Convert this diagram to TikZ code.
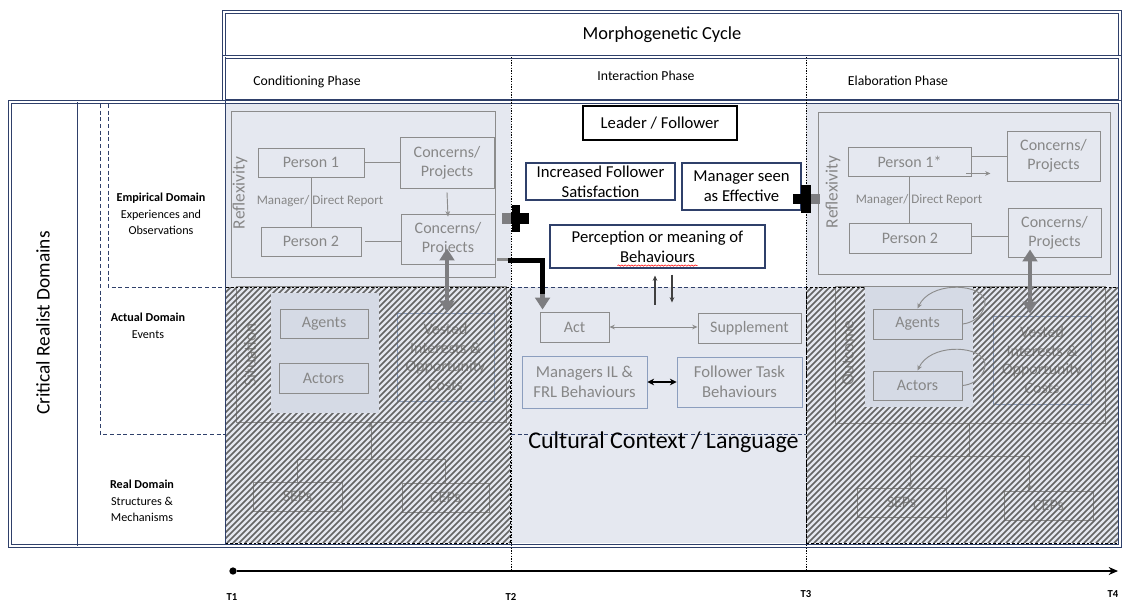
\documentclass[tikz,border=0pt]{standalone}
\usepackage{fontspec}
\setmainfont{Carlito}
\usetikzlibrary{arrows.meta,positioning,calc,decorations.pathmorphing}

\definecolor{navy}{RGB}{47,64,106}
\definecolor{pale}{RGB}{229,232,240}
\definecolor{panel}{RGB}{213,218,229}
\definecolor{boxgray}{RGB}{140,140,140}
\definecolor{txtgray}{RGB}{135,135,135}
\definecolor{fatgray}{RGB}{125,125,128}
\definecolor{hatchgray}{RGB}{100,100,100}
\definecolor{steel}{RGB}{140,158,190}

\newcommand{\fs}[2]{\fontsize{#1}{#2}\selectfont}

\begin{document}
\begin{tikzpicture}[x=0.75pt, y=-0.75pt,
		every node/.style={align=center, inner sep=1pt},
		wh/.style 2 args={minimum width=#1*0.75pt, minimum height=#2*0.75pt},
		dframe/.style={draw=navy, double, double distance=2pt, line width=0.5pt},
		navyline/.style={draw=navy, line width=0.7pt},
		domdash/.style={draw=navy, line width=0.6pt, dash pattern=on 3pt off 2pt},
		tdot/.style={draw=black, line width=0.6pt, dash pattern=on 1pt off 1pt},
		gbox/.style={draw=boxgray, line width=0.7pt, text=txtgray},
		sbox/.style={draw=steel, line width=0.7pt, text=txtgray},
		nbox/.style={draw=navy, line width=0.8pt, fill=white},
		gline/.style={draw=boxgray, line width=0.7pt},
		garrow/.style={gline, -{Stealth[length=4pt, width=3.5pt]}},
		fat/.style={draw=fatgray, line width=3.6pt, {Triangle[length=9pt, width=11pt]}-{Triangle[length=9pt, width=11pt]}},
		hatchline/.style={draw=hatchgray, line width=1.1pt},
		hatchedge/.style={draw=black, line width=0.6pt, dash pattern=on 2pt off 1.5pt},
		hd/.style={font=\fs{13.8}{16}},
		ph/.style={font=\fs{10.3}{12}},
		dom/.style={font=\fs{9.1}{12.4}},
		sidelbl/.style={font=\fs{14.5}{17}, rotate=90},
		rlab/.style={font=\fs{13}{15}, text=txtgray, rotate=90},
		pers/.style={gbox, font=\fs{12}{14}},
		cpbox/.style={gbox, font=\fs{12}{14.5}},
		mdr/.style={font=\fs{9.8}{11}, text=txtgray},
		midbox/.style={nbox, font=\fs{12.5}{15}},
		cult/.style={font=\fs{18}{21}},
		tlab/.style={font=\bfseries\fs{8}{9}}]

	\useasboundingbox (0,0) rectangle (1122,601);

	% background fills
	\fill[pale] (225,104) rectangle (511,543);
	\fill[pale] (806,104) rectangle (1118,543);
	\fill[pale] (511,287) rectangle (806,543);

	% domains
	\draw[domdash] (108,104) -- (108,287) -- (225,287);
	\draw[domdash] (100,104) -- (100,434) -- (225,434);
	\draw[domdash] (511,287) -- (806,287);
	\draw[domdash] (511,434) -- (806,434);

	\node[sidelbl] (crd) at (43,323) {Critical Realist Domains};
	\node[dom] (empdom) at (161,214) {\textbf{Empirical Domain}\\Experiences and\\Observations};
	\node[dom] (actdom) at (148,326) {\textbf{Actual Domain}\\Events};
	\node[dom] (realdom) at (142,501) {\textbf{Real Domain}\\Structures \&\\Mechanisms};

	% header
	\node[hd] (cycle) at (662,35) {Morphogenetic Cycle};
	\node[ph] (cond) at (307,82) {Conditioning Phase};
	\node[ph] (inter) at (646,76) {Interaction Phase};
	\node[ph] (elab) at (898,81) {Elaboration Phase};

	% conditioning: reflexivity
	\node[gbox, wh={264}{166}] (reflA) at (363,194) {};
	\node[rlab] (rxA) at (240,193) {Reflexivity};
	\node[pers, wh={106}{29}] (p1A) at (311,162.5) {Person 1};
	\node[pers, wh={100}{29}] (p2A) at (311,241.5) {Person 2};
	\node[cpbox, wh={94}{51}] (cpA1) at (447,162.5) {Concerns/\\Projects};
	\node[cpbox, wh={94}{50}] (cpA2) at (448,239) {Concerns/\\Projects};
	\node[mdr] (mdrA) at (320,201) {Manager/ Direct Report};
	\draw[gline] (p1A.south) -- (p1A.south |- p2A.north);
	\draw[gline] (p1A.east) -- (cpA1.west);
	\draw[gline] ($(p2A.east)+(4,0)$) -- (p2A.east -| cpA2.west);
	\draw[garrow] ($(cpA1.south)+(0,4)$) -- ($(cpA2.north)+(0,3)$);

	% conditioning: situation
	\node[gbox, wh={270}{136}] (sitA) at (371,354) {};
	\node[rlab] (sxA) at (250,355) {Situation};
	\node[sbox, wh={97}{88}, font=\fs{12}{14}] (viA) at (445.5,357) {Vested\\Interests \&\\Opportunity\\Costs};
	\node[pers, wh={89}{29}] (sepA) at (297.5,496.5) {SEPs};
	\node[pers, wh={87}{29}] (cepA) at (445.5,497.5) {CEPs};
	\coordinate (jA) at (371,459);
	\draw[gline] (sepA.north) |- (jA) -| (cepA.north);
	\draw[garrow] (jA) -- (jA |- sitA.south);
	\begin{scope}
		\clip (225,287) rectangle (510,543);
		\foreach \k in {0,6,...,546}
			\draw[hatchline] (-31+\k,543) -- ++(256,-256);
	\end{scope}
	\draw[hatchedge] (225,287) rectangle (510,543);
	\node[fill=panel, wh={108}{120}] (panA) at (325,353) {};
	\node[pers, wh={88}{29}] (agA) at (324,323.5) {Agents};
	\node[pers, wh={89}{30}] (acA) at (323.5,378) {Actors};

	% elaboration: reflexivity
	\node[gbox, wh={292}{162}] (reflB) at (964,193) {};
	\node[rlab] (rxB) at (833,192) {Reflexivity};
	\node[pers, wh={123}{29}] (p1B) at (909.5,161.5) {Person 1*};
	\node[pers, wh={122}{30}] (p2B) at (910,238) {Person 2};
	\node[cpbox, wh={93}{50}] (cpB1) at (1053.5,156) {Concerns/\\Projects};
	\node[cpbox, wh={93}{49}] (cpB2) at (1054.5,232.5) {Concerns/\\Projects};
	\node[mdr] (mdrB) at (919,200) {Manager/ Direct Report};
	\draw[gline] (p1B.south) -- (p1B.south |- p2B.north);
	\draw[gline] (p1B.east |- cpB1.west) -- (cpB1.west);
	\draw[gline] ($(p2B.east)+(0,-2)$) -- ($(p2B.east -| cpB2.west)+(0,-2)$);
	\draw[garrow] ($(p1B.south east)+(-5,-3)$) -- ++(24,0);

	% elaboration: outcome
	\node[gbox, wh={270}{137}] (outB) at (970,354.5) {};
	\node[rlab] (oxB) at (848,353) {Outcome};
	\node[sbox, wh={98}{88}, font=\fs{12}{14}] (viB) at (1042,360) {Vested\\Interests \&\\Opportunity\\Costs};
	\node[pers, wh={89}{29}] (sepB) at (901.5,502.5) {SEPs};
	\node[pers, wh={89}{29}] (cepB) at (1048.5,505.5) {CEPs};
	\coordinate (jB) at (969,456);
	\draw[gline] (jB |- outB.south) -- (jB);
	\draw[garrow] (jB) -| ($(sepB.north)+(8.5,0)$);
	\draw[garrow] (jB) -| ($(cepB.north)+(-19.5,0)$);
	\begin{scope}
		\clip (806,287) rectangle (1118,543);
		\foreach \k in {0,6,...,570}
			\draw[hatchline] (550+\k,543) -- ++(256,-256);
	\end{scope}
	\draw[hatchedge] (806,287) rectangle (1118,543);
	\node[fill=panel, wh={108}{120}] (panB) at (919,347) {};
	\node[pers, wh={89}{30}] (agB) at (917.5,324) {Agents};
	\node[pers, wh={89}{29}] (acB) at (917.5,385.5) {Actors};
	\draw[garrow] (agB.east) .. controls (980,322) and (988,306) .. (984,298)
		.. controls (976,283) and (930,282) .. (agB.north);
	\draw[garrow] (acB.east) .. controls (980,384) and (988,368) .. (984,360)
		.. controls (976,345) and (930,344) .. (acB.north);

	% interaction phase
	\node[midbox, draw=black, wh={154}{34}] (lf) at (660,123) {Leader / Follower};
	\node[midbox, wh={149}{37}] (ifs) at (600.5,181.5) {Increased Follower\\Satisfaction};
	\node[midbox, wh={119}{47}] (mse) at (741.5,186.5) {Manager seen\\as Effective};
	\node[midbox, wh={215}{43}] (pmb) at (657.5,246.5) {Perception or meaning of\\Behaviours};
	\draw[red, line width=0.4pt, decorate, decoration={snake, amplitude=0.5pt, segment length=2.5pt}]
		($(pmb.south)+(-40,-3)$) -- ++(80,0);
	\node[pers, wh={69}{30}] (act) at (574.5,327) {Act};
	\node[pers, wh={103}{30}] (sup) at (749.5,328) {Supplement};
	\node[sbox, wh={125}{52}, font=\fs{12.5}{15}] (mil) at (584.5,382) {Managers IL \&\\FRL Behaviours};
	\node[sbox, wh={125}{50}, font=\fs{12.5}{15}] (ftb) at (739.5,382) {Follower Task\\Behaviours};
	\node[cult] (cult) at (663.5,442) {Cultural Context / Language};

	\draw[gline, {Stealth[length=4pt, width=3.5pt]}-{Stealth[length=4pt, width=3.5pt]}] (act.east) -- (act.east -| sup.west);
	\draw[line width=1.1pt, {Stealth[length=5pt, width=5pt]}-{Stealth[length=5pt, width=5pt]}] (mil.east) -- (mil.east -| ftb.west);
	\draw[draw=black!75, line width=0.8pt, -{Stealth[length=4pt, width=3.5pt]}] ($(pmb.south)+(-2.5,36)$) -- ($(pmb.south)+(-2.5,7)$);
	\draw[draw=black!75, line width=0.8pt, -{Stealth[length=4pt, width=3.5pt]}] ($(pmb.south)+(14.5,6)$) -- ($(pmb.south)+(14.5,34)$);

	% links between phases
	\draw[fat] ($(cpA2.south)+(-1,-16)$) -- ($(cpA2.south |- viA.north)+(-1,0)$);
	\draw[fat] ($(cpB2.south)+(-24.5,-8)$) -- ($(viB.north)+(-12,-2)$);
	\draw[gline, line width=2pt] ($(cpA2.south east)+(2,-5)$) -- ++(11,0);
	\draw[line width=3.4pt] ($(cpA2.south east)+(13,-4)$) -| ($(act.north west)+(3,-16)$);
	\draw[fatgray, line width=3.4pt, -{Triangle[length=9pt, width=11pt]}] ($(act.north west)+(3,-18)$) -- ($(act.north west)+(3,-2)$);

	\coordinate (plusA) at (516,218);
	\fill[fatgray] ($(plusA)+(-14,-5.5)$) rectangle ($(plusA)+(-5,5.5)$);
	\fill ($(plusA)+(-4,-13.5)$) rectangle ($(plusA)+(4,13.5)$);
	\fill ($(plusA)+(-5,-5.5)$) rectangle ($(plusA)+(13,5.5)$);
	\coordinate (plusB) at (806,199);
	\fill[fatgray] ($(plusB)+(5,-5)$) rectangle ($(plusB)+(14,5)$);
	\fill ($(plusB)+(-5,-14)$) rectangle ($(plusB)+(5,14)$);
	\fill ($(plusB)+(-13,-5)$) rectangle ($(plusB)+(5,5)$);

	% frame
	\draw[dframe] (224,12) rectangle (1120,57);
	\draw[dframe] (224,57) rectangle (1120,101);
	\draw[dframe] (10,102) rectangle (1120,546);
	\draw[navyline] (77,102) -- (77,546);
	\draw[navyline] (225,57) -- (225,544);
	\draw[tdot] (511,57) -- (511,571);
	\draw[tdot] (806,57) -- (806,571);

	% time line
	\node[circle, fill=black, inner sep=0pt, minimum size=5.5pt] (t0) at (233,571) {};
	\coordinate (tend) at (1118,571);
	\draw[line width=0.8pt, -{Stealth[length=7pt, width=6pt]}] (t0) -- (tend);
	\node[tlab] (t1) at (232,597) {T1};
	\node[tlab] (t2) at (511,597) {T2};
	\node[tlab] (t3) at (806,594) {T3};
	\node[tlab] (t4) at (1113,594) {T4};

\end{tikzpicture}
\end{document}
